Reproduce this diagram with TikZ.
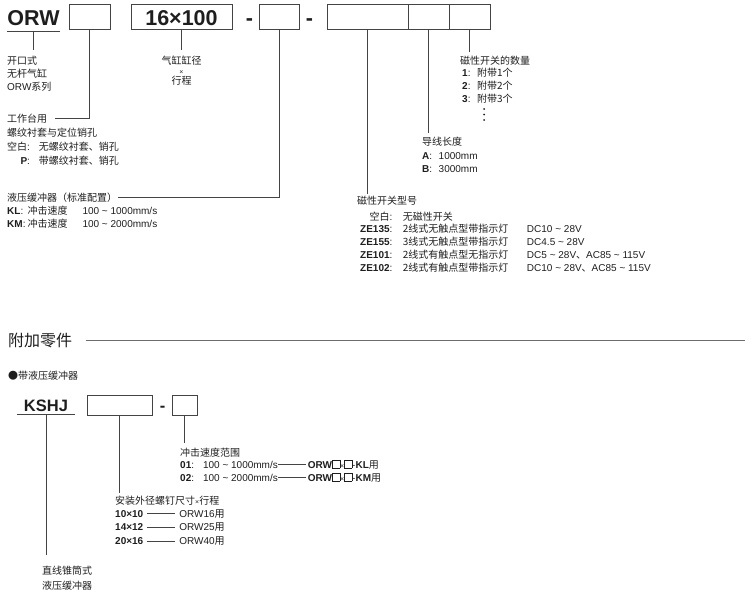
\documentclass[tikz,border=0pt]{standalone}
\usepackage{fontspec}
\setmainfont{Liberation Sans}
\newfontfamily\cjk{Noto Sans CJK SC}
\usetikzlibrary{positioning}
\definecolor{cline}{RGB}{68,68,68}
\definecolor{ctext}{RGB}{30,30,30}
\definecolor{crule}{RGB}{110,110,110}
\newcommand\zh[1]{{\cjk #1}}
\newcommand\rowsof[2]{\begin{tabular}[t]{@{}#1@{}}#2\end{tabular}}
\newcommand\emptybox{{\setlength\fboxsep{0pt}\setlength\fboxrule{0.5pt}\fbox{\rule{0pt}{8pt}\rule{7pt}{0pt}}}}
\newcommand\hrulebit[1]{{\color{cline}\rule[3.3pt]{#1}{0.6pt}}}

\begin{document}
\begin{tikzpicture}[
  x=1pt,y=-1pt,
  font=\fontsize{10}{13}\selectfont,
  text=ctext,
  codebox/.style={draw=cline,line width=0.9pt,inner sep=0pt,outer sep=0pt,minimum height=25pt},
  big/.style={font=\fontsize{21.5}{24}\selectfont\bfseries,inner sep=0pt},
  mid/.style={font=\fontsize{16.5}{19}\selectfont\bfseries,inner sep=0pt},
  txt/.style={anchor=base west,inner sep=0pt},
  lead/.style={draw=cline,line width=0.8pt}
]
  \useasboundingbox (0,0) rectangle (753,595);

  % model code ORW
  \node[big,anchor=base,minimum width=53pt,inner ysep=5.5pt] (orw) at (33.5,25) {ORW};
  \draw[lead] (orw.south west) -- (orw.south east);
  \node[codebox,minimum width=41pt] (b1) at (89.5,16.5) {};
  \node[codebox,minimum width=101pt,font=\fontsize{21.5}{24}\selectfont\bfseries,
        text height=17pt,text depth=0pt] (b2) at (181.5,16.5) {16×100};
  \node[big,anchor=base] (d1) at (249.5,25) {-};
  \node[codebox,minimum width=40pt] (b3) at (279,16.5) {};
  \node[big,anchor=base] (d2) at (309.5,25) {-};
  \node[codebox,minimum width=81pt] (b4a) at (367.5,16.5) {};
  \node[codebox,minimum width=41pt,right=0pt of b4a] (b4b) {};
  \node[codebox,minimum width=41pt,right=0pt of b4b] (b4c) {};

  % explanations
  \node[txt] (series) at (7,64) {\rowsof{l}{\zh{开口式}\\\zh{无杆气缸}\\ORW\zh{系列}}};
  \node[txt] (wk) at (7,122.5) {\zh{工作台用}};
  \node[txt] (wkopt) at (7,136)
    {\renewcommand\arraystretch{1.08}\rowsof{r@{\hspace{9pt}}l}{%
      \multicolumn{2}{@{}l@{}}{\zh{螺纹衬套与定位销孔}}\\
      \zh{空白}:&\zh{无螺纹衬套、销孔}\\
      \textbf{P}:&\zh{带螺纹衬套、销孔}}};
  \node[txt,anchor=base] (bore) at (181.5,64)
    {\rowsof{c}{\zh{气缸缸径}\\[-3pt]{\scriptsize×}\\[-3pt]\zh{行程}}};
  \node[txt] (damp) at (7,201.5) {\zh{液压缓冲器（标准配置）}};
  \node[txt] (dampopt) at (7,214)
    {\rowsof{l@{\hspace{2pt}}l@{\hspace{15pt}}l}{%
      \textbf{KL}:&\zh{冲击速度}&100 \textasciitilde{} 1000mm/s\\
      \textbf{KM}:&\zh{冲击速度}&100 \textasciitilde{} 2000mm/s}};
  \node[txt] (qty) at (460,64) {\zh{磁性开关的数量}};
  \node[txt] (qtyopt) at (462,76)
    {\rowsof{l@{\hspace{6.5pt}}l}{%
      \textbf{1}:&\zh{附带1个}\\
      \textbf{2}:&\zh{附带2个}\\
      \textbf{3}:&\zh{附带3个}}};
  \foreach \dy in {109,114.5,120} \fill[ctext] (484,\dy) circle (1pt);
  \node[txt] (wire) at (422,145) {\zh{导线长度}};
  \node[txt] (wireopt) at (422,159)
    {\rowsof{l@{\hspace{6.5pt}}l}{%
      \textbf{A}:&1000mm\\
      \textbf{B}:&3000mm}};
  \node[txt] (swtype) at (357,204) {\zh{磁性开关型号}};
  \node[txt] (swlist) at (360,220)
    {\renewcommand\arraystretch{0.99}\rowsof{r@{\hspace{10.5pt}}l@{\hspace{18.5pt}}l}{%
      \zh{空白}:&\zh{无磁性开关}&\\
      \textbf{ZE135}:&\zh{2线式无触点型带指示灯}&DC10 \textasciitilde{} 28V\\
      \textbf{ZE155}:&\zh{3线式无触点型带指示灯}&DC4.5 \textasciitilde{} 28V\\
      \textbf{ZE101}:&\zh{2线式有触点型无指示灯}&DC5 \textasciitilde{} 28V\zh{、}AC85 \textasciitilde{} 115V\\
      \textbf{ZE102}:&\zh{2线式有触点型带指示灯}&DC10 \textasciitilde{} 28V\zh{、}AC85 \textasciitilde{} 115V}};

  \draw[lead,shorten >=5pt] (orw.south) -- (orw.south |- series.north);
  \draw[lead,shorten >=8pt] (b1.south) |- (wk.east);
  \draw[lead,shorten >=5pt] (b2.south) -- (b2.south |- bore.north);
  \draw[lead,shorten >=1pt] (b3.south) |- (damp.east);
  \draw[lead,shorten >=1pt] (b4a.south) -- (b4a.south |- swtype.north);
  \draw[lead,shorten >=3pt] (b4b.south) -- (b4b.south |- wire.north);
  \draw[lead,shorten >=3pt] (b4c.south) -- (b4c.south |- qty.north);

  % accessories
  \node[txt,font=\fontsize{16}{19}\selectfont] (extra) at (8,346) {\zh{附加零件}};
  \coordinate (ruleend) at (745,341);
  \draw[draw=crule,line width=0.8pt,shorten <=14pt] (extra.east) -- (extra.east -| ruleend);
  \node[txt] (kit) at (8,379) {\zh{●带液压缓冲器}};

  \node[mid,anchor=base,minimum width=58pt,inner ysep=3.5pt] (kshj) at (46,411) {KSHJ};
  \draw[lead] (kshj.south west) -- (kshj.south east);
  \node[codebox,minimum width=65pt,minimum height=20pt] (k1) at (119.5,405) {};
  \node[mid,anchor=base] (kd) at (162.5,411) {-};
  \node[codebox,minimum width=25pt,minimum height=20pt] (k2) at (184.5,405) {};

  \node[txt] (range) at (180,456) {\zh{冲击速度范围}};
  \node[txt] (rangeopt) at (180,468)
    {\rowsof{l@{\hspace{9pt}}l}{%
      \textbf{01}:&100 \textasciitilde{} 1000mm/s\hrulebit{28pt}\hspace{2pt}\textbf{ORW}\emptybox{\scriptsize×}\emptybox-\textbf{KL}\zh{用}\\
      \textbf{02}:&100 \textasciitilde{} 2000mm/s\hrulebit{28pt}\hspace{2pt}\textbf{ORW}\emptybox{\scriptsize×}\emptybox-\textbf{KM}\zh{用}}};
  \node[txt] (mount) at (115,504) {\zh{安装外径螺钉尺寸}{\scriptsize×}\zh{行程}};
  \node[txt] (mountopt) at (115,517)
    {\renewcommand\arraystretch{1.055}\rowsof{l}{%
      \textbf{10×10}\hspace{4pt}\hrulebit{28pt}\hspace{4pt}ORW16\zh{用}\\
      \textbf{14×12}\hspace{4pt}\hrulebit{28pt}\hspace{4pt}ORW25\zh{用}\\
      \textbf{20×16}\hspace{4pt}\hrulebit{28pt}\hspace{4pt}ORW40\zh{用}}};
  \node[txt] (cone) at (42,574) {\rowsof{l}{\zh{直线锥筒式}\\[2pt]\zh{液压缓冲器}}};

  \draw[lead,shorten >=10pt] (kshj.south) -- (kshj.south |- cone.north);
  \draw[lead,shorten >=2pt] (k1.south) -- (k1.south |- mount.north);
  \draw[lead,shorten >=4pt] (k2.south) -- (k2.south |- range.north);
\end{tikzpicture}
\end{document}
